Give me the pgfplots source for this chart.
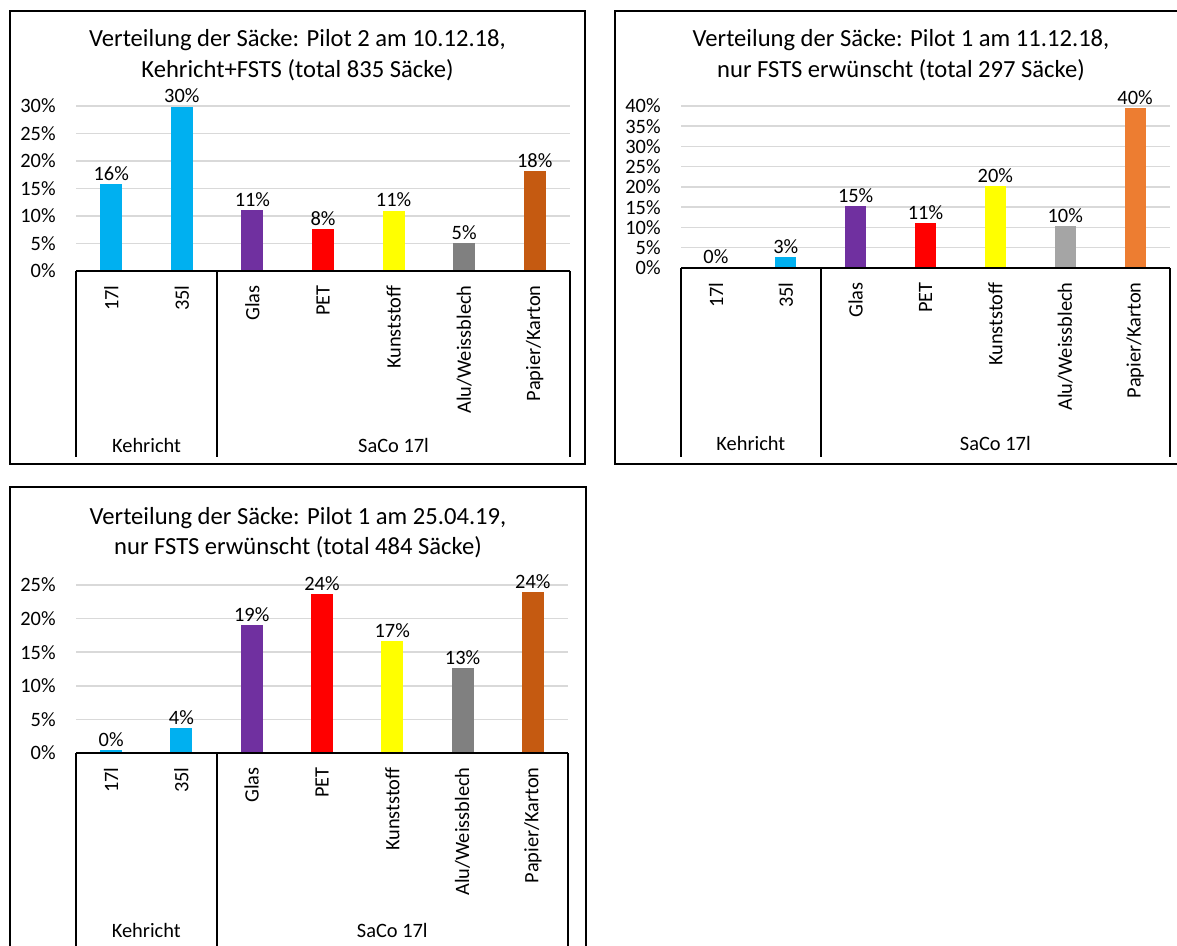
\documentclass[border=0pt]{standalone}
\usepackage{fontspec}
\setmainfont{Carlito}
\usepackage{pgfplots}
\pgfplotsset{compat=1.18}
\definecolor{kblue}{HTML}{00B0F0}
\definecolor{kdblue}{HTML}{0070C0}
\definecolor{kpurple}{HTML}{7030A0}
\definecolor{kred}{HTML}{FF0000}
\definecolor{kyellow}{HTML}{FFFF00}
\definecolor{kgray}{HTML}{808080}
\definecolor{klgray}{HTML}{A5A5A5}
\definecolor{kbrown}{HTML}{C55A11}
\definecolor{korange}{HTML}{ED7D31}
\definecolor{gridgray}{HTML}{D9D9D9}
\newcommand{\lbl}{\fontsize{10.2}{12}\selectfont}
\newcommand{\ttl}{\fontsize{12.3}{15.3}\selectfont}
\pgfplotsset{
  sackchart/.style={
    scale only axis, anchor=south west,
    xmin=-0.5, xmax=6.5, ymin=0,
    xtick={0,...,6},
    xticklabels={17l,35l,Glas,PET,Kunststoff,Alu/Weissblech,Papier/Karton},
    xticklabel style={rotate=90, anchor=east, inner sep=0pt, font=\lbl},
    xticklabel shift=7pt,
    major tick length=0pt,
    axis line style={draw=none},
    ymajorgrids, grid style={color=gridgray, line width=0.75pt},
    yticklabel={\pgfmathprintnumber{\tick}\%},
    yticklabel style={font=\lbl, anchor=east, inner sep=0pt},
    yticklabel shift=10pt,
    /pgf/number format/assume math mode=true,
    ybar, bar width=11pt, bar shift=0pt,
    clip=false,
    nodes near coords={\pgfmathprintnumber[fixed,precision=0]{\pgfplotspointmeta}\%},
    every node near coord/.append style={font=\lbl, inner sep=1.5pt, anchor=south, text=black},
    every axis plot/.append style={draw=none},
  }
}
\begin{document}
\begin{tikzpicture}
\useasboundingbox (0,0) rectangle (588.5pt,-473pt);
% borders
\draw[line width=1pt] (5pt,-5.5pt) rectangle (292.5pt,-232pt);
\draw[line width=1pt] (307.5pt,-5.5pt) rectangle (592pt,-232pt);
\draw[line width=1pt] (4.75pt,-243.5pt) rectangle (293pt,-482pt);
% titles
\node[font=\ttl, align=center] at (148.75pt,-27.5pt) {Verteilung der Säcke: Pilot 2 am 10.12.18,\\Kehricht+FSTS (total 835 Säcke)};
\node[font=\ttl, align=center] at (450.5pt,-27.5pt) {Verteilung der Säcke: Pilot 1 am 11.12.18,\\nur FSTS erwünscht (total 297 Säcke)};
\node[font=\ttl, align=center] at (149pt,-266.25pt) {Verteilung der Säcke: Pilot 1 am 25.04.19,\\nur FSTS erwünscht (total 484 Säcke)};

% Chart 1
\begin{axis}[sackchart, at={(38pt,-135.5pt)}, width=247pt, height=82.5pt,
  ymax=30, ytick={0,5,...,30}]
\addplot[fill=kblue] coordinates {(0,15.8)};
\addplot[fill=kblue] coordinates {(1,29.9)};
\addplot[fill=kpurple] coordinates {(2,11.1)};
\addplot[fill=kred] coordinates {(3,7.6)};
\addplot[fill=kyellow] coordinates {(4,11.0)};
\addplot[fill=kgray] coordinates {(5,5.1)};
\addplot[fill=kbrown] coordinates {(6,18.1)};
\coordinate (A1) at (axis cs:-0.5,0);
\coordinate (B1) at (axis cs:1.5,0);
\coordinate (C1) at (axis cs:6.5,0);
\coordinate (K1) at (axis cs:0.5,0);
\coordinate (S1) at (axis cs:4,0);
\end{axis}
\draw[line width=1pt] (A1) -- (C1);
\foreach \p in {A1,B1,C1} \draw[line width=1pt] (\p) -- ++(0,-93pt);
\node[font=\lbl] at ([yshift=-87pt]K1) {Kehricht};
\node[font=\lbl] at ([yshift=-87pt]S1) {SaCo 17l};

% Chart 2
\begin{axis}[sackchart, at={(340.5pt,-134pt)}, width=244.5pt, height=81pt,
  ymax=40, ytick={0,5,...,40}, bar width=10.5pt]
\addplot[fill=kdblue] coordinates {(0,0.3)};
\addplot[fill=kblue] coordinates {(1,2.7)};
\addplot[fill=kpurple] coordinates {(2,15.3)};
\addplot[fill=kred] coordinates {(3,11.2)};
\addplot[fill=kyellow] coordinates {(4,20.2)};
\addplot[fill=klgray] coordinates {(5,10.4)};
\addplot[fill=korange] coordinates {(6,39.6)};
\coordinate (A2) at (axis cs:-0.5,0);
\coordinate (B2) at (axis cs:1.5,0);
\coordinate (C2) at (axis cs:6.5,0);
\coordinate (K2) at (axis cs:0.5,0);
\coordinate (S2) at (axis cs:4,0);
\end{axis}
\draw[line width=1pt] (A2) -- (C2);
\foreach \p in {A2,B2,C2} \draw[line width=1pt] (\p) -- ++(0,-94.5pt);
\node[font=\lbl] at ([yshift=-87.5pt]K2) {Kehricht};
\node[font=\lbl] at ([yshift=-87.5pt]S2) {SaCo 17l};

% Chart 3
\begin{axis}[sackchart, at={(38pt,-376.5pt)}, width=246pt, height=84pt,
  ymax=25, ytick={0,5,...,25}]
\addplot[fill=kblue] coordinates {(0,0.4)};
\addplot[fill=kblue] coordinates {(1,3.7)};
\addplot[fill=kpurple] coordinates {(2,19.0)};
\addplot[fill=kred] coordinates {(3,23.6)};
\addplot[fill=kyellow] coordinates {(4,16.6)};
\addplot[fill=kgray] coordinates {(5,12.6)};
\addplot[fill=kbrown] coordinates {(6,23.9)};
\coordinate (A3) at (axis cs:-0.5,0);
\coordinate (B3) at (axis cs:1.5,0);
\coordinate (C3) at (axis cs:6.5,0);
\coordinate (K3) at (axis cs:0.5,0);
\coordinate (S3) at (axis cs:4,0);
\end{axis}
\draw[line width=1pt] (A3) -- (C3);
\foreach \p in {A3,B3,C3} \draw[line width=1pt] (\p) -- ++(0,-100pt);
\node[font=\lbl] at ([yshift=-88.5pt]K3) {Kehricht};
\node[font=\lbl] at ([yshift=-88.5pt]S3) {SaCo 17l};
\end{tikzpicture}
\end{document}
